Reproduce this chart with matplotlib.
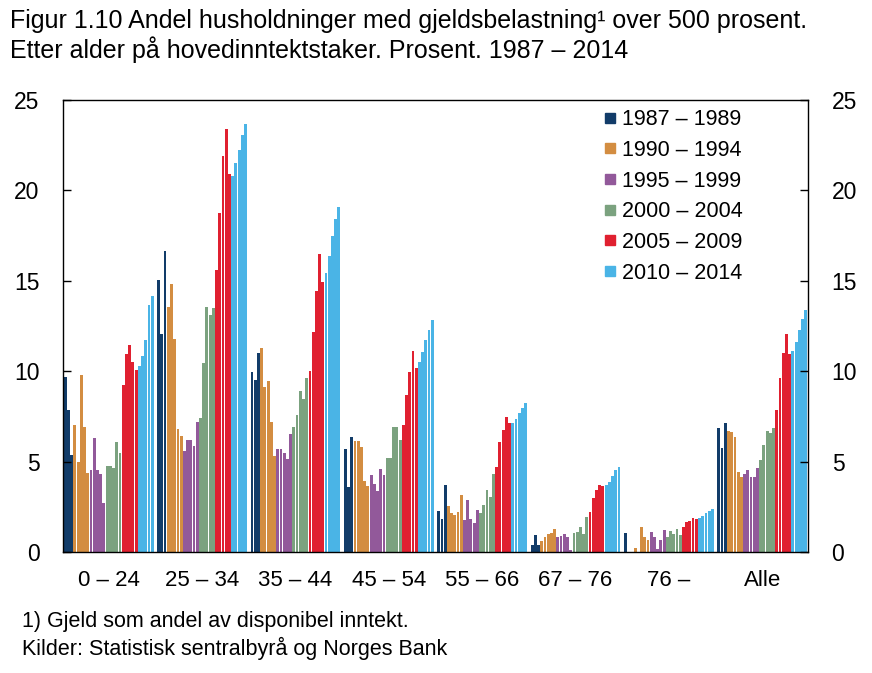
import numpy as np
from matplotlib import pyplot as plt
from matplotlib.lines import Line2D

plt.rcParams['font.family'] = ['Liberation Sans', 'DejaVu Sans']

# aldersgrupper og år 1987-2014
groups = ['0 – 24', '25 – 34', '35 – 44', '45 – 54', '55 – 66', '67 – 76', '76 –', 'Alle']
years = list(range(1987, 2015))
periods = ['1987 – 1989', '1990 – 1994', '1995 – 1999', '2000 – 2004', '2005 – 2009', '2010 – 2014']
period_colors = ['#123c69', '#d38d41', '#92599a', '#7ba27f', '#e02030', '#4ab4e6']

a_0_24 = [9.69, 7.87, 5.34, 7.03, 4.97, 9.8, 6.9, 4.39, 4.55, 6.33, 4.55, 4.33, 2.72, 4.73,
          4.73, 4.64, 6.07, 5.47, 9.25, 10.97, 11.45, 10.53, 10.07, 10.31, 10.84, 11.71, 13.67, 14.18]
a_25_34 = [15.03, 12.06, 16.66, 13.54, 14.81, 11.76, 6.81, 6.4, 5.56, 6.17, 6.17, 5.89, 7.21, 7.43,
           10.48, 13.54, 13.1, 13.47, 15.58, 18.73, 21.89, 23.41, 20.88, 20.77, 21.52, 22.22, 23.08, 23.69]
a_35_44 = [9.97, 9.51, 11.02, 11.27, 9.14, 9.48, 7.21, 5.31, 5.67, 5.67, 5.49, 5.12, 6.53, 6.9,
           7.58, 8.92, 8.46, 9.61, 10.02, 12.17, 14.46, 16.5, 14.92, 15.43, 16.37, 17.5, 18.4, 19.1]
a_45_54 = [5.72, 3.6, 6.35, 6.13, 6.13, 5.83, 3.91, 3.63, 4.24, 3.78, 3.38, 4.61, 4.24, 5.21,
           5.21, 6.94, 6.94, 6.22, 7.05, 8.66, 9.93, 11.12, 10.2, 10.53, 11.06, 11.74, 12.29, 12.83]
a_55_66 = [2.26, 1.82, 3.69, 2.53, 2.13, 2.04, 2.22, 3.14, 1.76, 2.86, 1.82, 1.63, 2.35, 2.17,
           2.59, 3.41, 3.05, 4.33, 4.7, 6.07, 6.75, 7.49, 7.12, 7.12, 7.36, 7.67, 7.94, 8.22]
a_67_76 = [0.39, 0.94, 0.39, 0.63, 0.85, 0.97, 1.07, 1.25, 0.81, 0.88, 1.0, 0.81, 0.11, 1.03,
           1.09, 1.4, 0.98, 1.92, 2.19, 3.01, 3.41, 3.69, 3.63, 3.69, 3.87, 4.18, 4.51, 4.7]
a_76 = [1.03, 0, 0, 0.24, 0, 1.4, 0.81, 0.66, 1.12, 0.81, 0.15, 0.66, 1.22, 0.85,
        1.16, 1.0, 1.25, 0.94, 1.36, 1.66, 1.71, 1.86, 1.81, 1.86, 1.99, 2.14, 2.27, 2.36]
a_alle = [6.84, 5.76, 7.14, 6.72, 6.62, 6.35, 4.42, 4.15, 4.29, 4.55, 4.15, 4.15, 4.64, 5.1,
          5.93, 6.72, 6.57, 6.84, 7.87, 9.65, 11.03, 12.07, 10.97, 11.12, 11.61, 12.29, 12.86, 13.36]

values = [a_0_24, a_25_34, a_35_44, a_45_54, a_55_66, a_67_76, a_76, a_alle]


def period_of(year):
    if year < 1990:
        return 0
    return min((year - 1990) // 5 + 1, 5)


fig = plt.figure(figsize=(8.72, 6.73), dpi=100)
ax = fig.add_axes([63 / 872, 1 - 552 / 673, 745 / 872, 452 / 673])

n = len(years)
step = n + 1
bar_colors = [period_colors[period_of(y)] for y in years]
for g, vals in enumerate(values):
    x = g * step + np.arange(n)
    ax.bar(x, vals, width=0.88, color=bar_colors, linewidth=0)

ax.set_xlim(-0.7, (len(groups) - 1) * step + n - 1 + 0.7)
ax.set_ylim(0, 25)
ax.set_yticks(range(0, 26, 5))
ax.set_xticks([g * step + (n - 1) / 2 for g in range(len(groups))])
ax.set_xticklabels(groups)
ax.tick_params(axis='x', length=0, pad=13, labelsize=16)
ax.tick_params(axis='y', direction='in', length=6, width=1, labelsize=16.5, pad=17,
               right=True, labelright=True)
for s in ax.spines.values():
    s.set_linewidth(1)

handles = [Line2D([], [], marker='s', linestyle='none', markersize=6.5,
                  markerfacecolor=c, markeredgecolor=c) for c in period_colors]
ax.legend(handles, periods, loc='upper left', bbox_to_anchor=(0.707, 1.013),
          frameon=False, fontsize=15.5, handlelength=0.5, handletextpad=0.3,
          labelspacing=0.45, borderaxespad=0.3)

fig.text(10 / 872, 1 - 9 / 673,
         'Figur 1.10 Andel husholdninger med gjeldsbelastning¹ over 500 prosent.\n'
         'Etter alder på hovedinntektstaker. Prosent. 1987 – 2014',
         fontsize=18, va='top', ha='left', linespacing=1.14)
fig.text(22 / 872, 1 - 622 / 673, '1) Gjeld som andel av disponibel inntekt.',
         fontsize=15.5, va='center', ha='left')
fig.text(22 / 872, 1 - 648 / 673, 'Kilder: Statistisk sentralbyrå og Norges Bank',
         fontsize=15.5, va='center', ha='left')

fig.savefig('out.png', dpi=100)
